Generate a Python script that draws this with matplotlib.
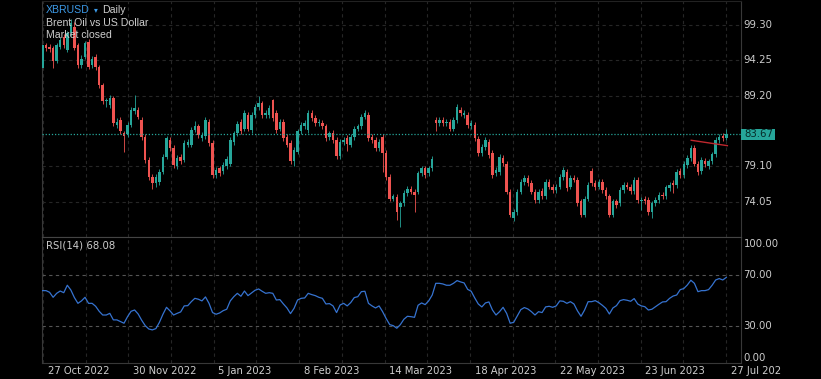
import matplotlib
matplotlib.use('Agg')
import matplotlib.pyplot as plt
import matplotlib.transforms as mtrans
from matplotlib.patches import Rectangle
import numpy as np

# ---------------- data ----------------
opens = [93.1, 96.4, 96.2, 96.0, 94.1, 96.2, 97.6, 95.8, 98.1, 99.0,
         96.4, 93.6, 94.8, 96.9, 93.6, 94.8, 93.3, 90.7, 88.4, 87.9,
         88.8, 85.0, 85.7, 83.8, 83.7, 85.0, 87.0, 87.2, 85.7, 83.3,
         80.0, 77.6, 76.7, 76.9, 78.3, 80.5, 82.9, 81.7, 79.1, 80.4,
         80.0, 82.2, 82.2, 84.3, 84.8, 83.1, 83.4, 85.5, 82.5, 77.9,
         78.8, 78.4, 79.1, 79.5, 82.6, 83.8, 85.5, 84.5, 86.4, 84.3,
         86.4, 87.6, 88.1, 86.4, 86.4, 88.6, 86.7, 84.5, 85.5, 83.3,
         82.4, 79.8, 81.2, 84.1, 84.8, 84.3, 86.7, 86.0, 85.3, 85.3,
         84.8, 83.3, 83.9, 82.9, 80.6, 82.6, 83.2, 82.2, 83.3, 84.5,
         84.8, 86.2, 86.4, 83.3, 82.9, 81.7, 83.3, 81.0, 77.6, 74.5,
         74.7, 73.3, 73.8, 75.3, 75.9, 75.5, 75.5, 78.1, 78.8, 78.1,
         78.8, 85.7, 85.3, 85.7, 85.3, 85.5, 84.5, 85.7, 87.2, 86.4,
         86.4, 84.8, 85.0, 83.0, 81.0, 81.9, 82.6, 81.0, 78.1, 78.3,
         80.3, 79.5, 75.5, 71.7, 72.6, 75.5, 76.9, 77.4, 76.7, 75.5,
         74.3, 75.6, 74.8, 76.9, 76.2, 75.7, 76.2, 77.6, 78.3, 76.2,
         77.5, 77.2, 74.1, 72.2, 74.5, 78.4, 76.7, 76.2, 76.9, 75.7,
         74.8, 72.2, 74.1, 73.8, 75.7, 76.4, 76.2, 75.6, 77.2, 74.1,
         74.5, 74.3, 72.6, 73.8, 74.3, 75.0, 74.8, 76.0, 76.7, 76.4,
         78.4, 77.8, 79.3, 80.3, 81.7, 79.5, 78.4, 79.9, 79.1, 79.8,
         80.8, 82.9, 83.5, 83.2]
closes = [96.4, 96.0, 95.9, 94.1, 96.4, 97.2, 96.4, 98.2, 99.6, 96.0,
          93.6, 94.4, 96.7, 93.3, 94.5, 93.3, 90.7, 88.4, 88.5, 88.8,
          85.3, 85.5, 84.1, 83.4, 85.0, 87.2, 87.4, 86.2, 83.3, 80.0,
          77.6, 76.7, 77.6, 78.3, 80.5, 83.1, 81.7, 79.3, 80.3, 79.8,
          82.4, 82.6, 84.3, 84.8, 83.6, 83.6, 85.7, 82.4, 77.9, 78.6,
          78.1, 79.3, 80.2, 82.9, 83.8, 85.2, 84.1, 86.7, 84.5, 86.4,
          87.6, 88.1, 86.4, 86.7, 87.4, 86.0, 84.3, 85.5, 83.1, 82.2,
          79.8, 81.4, 84.1, 85.0, 85.3, 86.7, 86.0, 85.3, 85.5, 84.8,
          83.1, 83.8, 82.9, 80.6, 82.6, 82.9, 82.3, 83.3, 84.5, 84.8,
          86.2, 86.7, 83.1, 82.9, 81.7, 82.6, 81.0, 77.6, 74.5, 74.8,
          72.6, 73.8, 75.3, 75.9, 75.5, 75.0, 78.1, 78.8, 77.9, 78.8,
          80.2, 85.3, 85.7, 85.3, 85.5, 84.5, 85.7, 87.6, 86.7, 86.7,
          85.0, 85.3, 83.1, 81.0, 81.9, 82.9, 80.7, 77.9, 78.6, 80.5,
          79.6, 75.5, 72.2, 72.6, 75.5, 76.9, 77.4, 76.7, 75.5, 74.3,
          75.5, 74.8, 76.9, 76.2, 75.7, 76.2, 77.6, 78.6, 76.0, 77.4,
          77.2, 73.8, 72.2, 74.5, 76.4, 76.7, 76.1, 76.9, 75.7, 74.8,
          72.2, 74.1, 73.6, 75.7, 76.4, 76.2, 75.6, 77.2, 74.3, 74.3,
          74.1, 72.6, 73.8, 74.3, 75.0, 74.8, 76.1, 76.5, 76.4, 78.3,
          77.9, 79.4, 80.3, 81.7, 79.5, 78.3, 80.0, 79.4, 79.8, 80.8,
          82.9, 83.3, 83.1, 83.67]
highs = [96.8, 96.8, 96.6, 96.3, 96.7, 97.6, 98.0, 98.5, 100.2, 99.8,
         96.8, 95.0, 97.0, 97.3, 94.9, 95.1, 93.6, 91.0, 88.9, 89.3,
         89.2, 86.0, 86.1, 84.2, 85.4, 87.6, 89.3, 87.6, 86.1, 83.7,
         80.4, 78.0, 78.0, 78.7, 80.9, 83.5, 83.3, 82.1, 80.7, 80.8,
         82.8, 83.0, 84.7, 85.6, 85.2, 84.0, 86.1, 85.9, 82.9, 79.0,
         79.2, 79.7, 80.6, 83.3, 84.2, 85.6, 85.9, 87.1, 86.8, 86.8,
         88.0, 89.1, 88.5, 87.1, 87.8, 88.7, 87.1, 85.9, 85.9, 83.7,
         82.8, 81.8, 84.5, 85.4, 85.7, 87.1, 87.1, 86.4, 85.9, 85.7,
         85.2, 84.2, 84.3, 83.3, 83.0, 83.3, 83.6, 83.7, 84.9, 85.2,
         86.6, 87.1, 86.8, 83.7, 83.3, 83.0, 83.7, 81.4, 78.0, 75.2,
         75.1, 74.2, 75.7, 76.3, 76.3, 75.9, 78.5, 79.2, 79.2, 79.2,
         80.6, 86.1, 86.1, 86.1, 85.9, 85.9, 86.1, 88.0, 87.6, 87.1,
         86.8, 85.7, 85.4, 83.4, 82.3, 83.3, 83.0, 81.4, 79.0, 80.9,
         80.7, 79.9, 75.9, 73.0, 75.9, 77.3, 77.8, 77.8, 77.1, 75.9,
         75.9, 76.0, 77.3, 77.3, 76.6, 76.6, 78.0, 79.0, 78.7, 77.8,
         77.9, 77.6, 74.5, 74.9, 76.8, 78.8, 77.1, 77.3, 77.3, 76.1,
         75.2, 74.5, 74.5, 76.1, 76.8, 76.8, 76.6, 77.6, 77.6, 74.7,
         74.9, 74.7, 74.2, 74.7, 75.4, 75.4, 76.5, 76.9, 77.1, 78.7,
         78.8, 79.8, 80.7, 82.1, 82.1, 79.9, 80.4, 80.3, 80.2, 81.2,
         83.3, 83.7, 83.9, 84.5]
lows = [92.6, 95.6, 95.5, 93.2, 93.8, 95.9, 96.0, 95.5, 97.8, 95.7,
        93.2, 93.2, 94.4, 93.0, 93.2, 92.9, 90.3, 88.0, 87.6, 87.5,
        84.9, 84.6, 83.7, 81.2, 83.3, 84.7, 86.6, 85.9, 82.9, 79.6,
        77.2, 75.9, 76.2, 76.5, 78.0, 80.2, 81.3, 78.9, 78.7, 79.4,
        79.7, 81.8, 81.9, 84.0, 83.2, 82.7, 83.0, 82.0, 77.5, 77.5,
        77.7, 78.0, 78.7, 79.1, 82.2, 83.4, 83.7, 84.1, 84.1, 83.9,
        86.0, 87.2, 86.0, 86.0, 86.0, 85.6, 83.9, 84.1, 82.7, 81.8,
        79.4, 79.1, 80.8, 83.7, 84.4, 83.9, 85.6, 84.9, 84.9, 84.4,
        82.7, 82.9, 82.5, 80.2, 80.2, 82.2, 81.3, 81.8, 82.9, 84.1,
        84.4, 85.8, 82.7, 82.5, 81.3, 81.3, 78.3, 77.2, 74.1, 74.1,
        71.4, 70.5, 73.4, 74.9, 75.1, 72.6, 75.1, 77.7, 77.5, 77.7,
        78.4, 84.1, 84.9, 84.9, 84.9, 84.1, 84.1, 85.3, 86.3, 86.0,
        84.6, 84.4, 82.7, 80.6, 80.6, 81.5, 80.3, 77.5, 77.7, 77.9,
        79.2, 75.1, 71.8, 71.3, 72.2, 75.1, 76.5, 76.3, 75.1, 73.9,
        73.9, 74.4, 74.4, 75.8, 75.3, 75.3, 75.8, 77.2, 75.6, 75.8,
        76.8, 73.4, 71.8, 71.8, 74.1, 76.3, 75.7, 75.8, 75.3, 74.4,
        71.8, 71.8, 73.2, 73.4, 75.3, 75.8, 75.2, 75.2, 73.9, 72.8,
        73.7, 72.2, 71.7, 73.4, 73.9, 74.4, 74.4, 75.6, 75.3, 76.0,
        77.5, 77.4, 78.9, 79.9, 79.1, 77.9, 78.0, 79.0, 78.7, 79.4,
        80.4, 82.5, 82.7, 82.8]
rsi = [57.8, 57.8, 56.5, 52.6, 55.7, 57.5, 56.2, 62.0, 58.3, 52.4,
       47.9, 49.8, 52.6, 47.9, 47.9, 45.6, 41.7, 38.8, 38.8, 40.1,
       35.0, 35.0, 33.7, 32.4, 37.5, 41.7, 42.7, 39.6, 34.7, 30.5,
       27.9, 27.2, 28.2, 33.1, 39.4, 44.8, 42.0, 38.8, 40.1, 41.2,
       45.9, 46.1, 49.2, 51.8, 51.1, 49.8, 52.9, 47.9, 40.7, 39.4,
       40.4, 42.2, 43.3, 49.8, 53.1, 55.7, 53.4, 57.5, 53.9, 56.0,
       58.1, 59.1, 57.3, 55.7, 56.2, 55.7, 50.5, 50.8, 47.4, 44.3,
       39.9, 44.0, 50.5, 51.8, 52.1, 55.7, 54.7, 53.9, 52.6, 51.8,
       47.4, 47.7, 45.9, 40.7, 46.6, 47.9, 45.9, 48.5, 52.4, 53.1,
       57.0, 57.3, 47.9, 45.9, 44.3, 45.9, 41.4, 36.0, 31.3, 30.5,
       28.5, 31.3, 35.5, 37.8, 37.5, 37.0, 46.4, 48.2, 46.9, 49.8,
       54.4, 63.5, 63.5, 63.0, 62.0, 62.0, 63.5, 65.6, 64.6, 63.8,
       58.8, 57.3, 52.1, 47.4, 45.1, 48.2, 49.0, 42.7, 38.8, 41.4,
       44.8, 40.1, 32.4, 33.1, 38.1, 43.0, 44.6, 43.5, 41.4, 38.8,
       41.4, 40.7, 45.1, 45.6, 44.8, 45.9, 49.8, 49.5, 47.9, 49.2,
       47.4, 42.0, 37.8, 42.7, 49.2, 49.2, 50.0, 48.5, 46.4, 44.0,
       39.6, 44.3, 46.1, 50.0, 50.8, 50.3, 49.5, 51.6, 47.4, 45.9,
       45.3, 42.7, 43.3, 45.3, 47.2, 49.0, 49.2, 51.8, 53.6, 54.4,
       58.6, 59.4, 62.2, 65.9, 63.5, 57.0, 57.8, 57.8, 58.6, 62.0,
       66.1, 67.2, 66.1, 68.1]
price_ticks = [99.30, 94.25, 89.20, 79.10, 74.05]
rsi_ticks = [100.0, 70.0, 30.0, 0.0]
date_labels = ['27 Oct 2022', '30 Nov 2022', '5 Jan 2023', '8 Feb 2023',
               '14 Mar 2023', '18 Apr 2023', '22 May 2023', '23 Jun 2023',
               '27 Jul 202']
last_price = 83.67
rsi_period = 14
rsi_last = 68.08
trend_x = [183.1, 193.3]
trend_y = [82.83, 82.06]

# ---------------- style ----------------
UP = '#26a69a'
DN = '#ef5350'
TXT = '#cdcdcd'
GRID = '#262626'
BG = '#000000'
plt.rcParams['font.family'] = ['DejaVu Sans']

W, H = 821, 379
fig = plt.figure(figsize=(W / 100, H / 100), dpi=100, facecolor=BG)
L, R = 42, 741
T1, B1, B2 = 1, 237, 363
axp = fig.add_axes([L / W, 1 - B1 / H, (R - L) / W, (B1 - T1) / H])
axr = fig.add_axes([L / W, 1 - B2 / H, (R - L) / W, (B2 - B1) / H])

def px(dx, dy):
    return mtrans.ScaledTranslation(dx / 100, dy / 100, fig.dpi_scale_trans)

n = len(opens)
x = np.arange(n)
xmin, xmax = -0.14, 197.15
grid_step = 12.05
grid_x = [0.14 + grid_step * k for k in range(17)]

for ax in (axp, axr):
    ax.set_facecolor(BG)
    ax.set_xlim(xmin, xmax)
    ax.set_xticks([])
    ax.set_yticks([])
    for s in ax.spines.values():
        s.set_color('#383838')
        s.set_linewidth(0.8)
    for gx in grid_x:
        ax.axvline(gx, color=GRID, lw=0.8, ls=(0, (3, 3)), zorder=0)

axp.spines['top'].set_color('#222222')
axr.spines['top'].set_color('#444444')

# ---------------- price panel ----------------
axp.set_ylim(69.01, 102.73)
for p in price_ticks:
    axp.axhline(p, color=GRID, lw=0.8, ls=(0, (3, 3)), zorder=0)

o = np.array(opens); c = np.array(closes)
hi = np.array(highs); lo = np.array(lows)
up = c >= o
cols = np.where(up, UP, DN)
axp.vlines(x, lo, hi, colors=cols, linewidth=0.6, zorder=2)
bottoms = np.minimum(o, c)
heights = np.maximum(np.abs(c - o), 0.15)
axp.bar(x, heights, bottom=bottoms, width=0.7, color=cols, linewidth=0, zorder=3)

axp.axhline(last_price, color=UP, lw=0.9, ls=(0, (1, 1.5)), zorder=4)
axp.plot(trend_x, trend_y, color='#c0282e', lw=1.0, zorder=5)

blend_p = mtrans.blended_transform_factory(axp.transAxes, axp.transData)
for p in price_ticks:
    axp.text(1.0, p, f'{p:.2f}', transform=blend_p + px(2.5, 0), ha='left',
             va='center', color=TXT, fontsize=7.3, clip_on=False)
box_w = 34 / (R - L)
box_h = 11 / 7.0
axp.add_patch(Rectangle((1.0, last_price - box_h / 2), box_w, box_h,
                        transform=blend_p, facecolor=UP, edgecolor='none',
                        clip_on=False, zorder=6))
axp.text(1.0, last_price, f'{last_price:.2f}', transform=blend_p + px(3, 0),
         ha='left', va='center', color='#062a27', fontsize=7.3,
         clip_on=False, zorder=7)

# header
fig.text(45.7 / W, 1 - 9.7 / H, 'XBRUSD', color='#3d9be9', fontsize=7.6,
         family=['Liberation Sans', 'DejaVu Sans'], va='center', ha='left')
fig.text(94.0 / W, 1 - 10.0 / H, '\u25be', color='#3d9be9', fontsize=5.5,
         family=['DejaVu Sans'], va='center', ha='left')
fig.text(102.3 / W, 1 - 9.7 / H, 'Daily', color=TXT, fontsize=7.6,
         family=['Liberation Sans', 'DejaVu Sans'], va='center', ha='left')
fig.text(45.7 / W, 1 - 23.0 / H, 'Brent Oil vs US Dollar', color=TXT,
         fontsize=7.6, family=['Liberation Sans', 'DejaVu Sans'],
         va='center', ha='left')
fig.text(45.7 / W, 1 - 35.5 / H, 'Market closed', color=TXT, fontsize=7.6,
         family=['Liberation Sans', 'DejaVu Sans'], va='center', ha='left')

# ---------------- RSI panel ----------------
axr.set_ylim(1.4, 99.6)
for lvl in (70, 30):
    axr.axhline(lvl, color='#555555', lw=0.8, ls=(0, (3, 3)), zorder=1)
axr.plot(x, rsi, color='#3673d0', lw=0.9, zorder=3)

blend_r = mtrans.blended_transform_factory(axr.transAxes, axr.transData)
shifts = {100.0: -7.5, 70.0: 0, 30.0: 0, 0.0: 6.5}
for v in rsi_ticks:
    axr.text(1.0, v, f'{v:.2f}', transform=blend_r + px(2.5, shifts[v]),
             ha='left', va='center', color=TXT, fontsize=7.3, clip_on=False)
axr.text(0, 1, f'RSI({rsi_period}) {rsi_last:.2f}', transform=axr.transAxes + px(3.7, -9),
         ha='left', va='center', color=TXT, fontsize=7.3)

blend_x = mtrans.blended_transform_factory(axr.transData, axr.transAxes)
for k, lab in enumerate(date_labels):
    axr.text(grid_x[2 * k], 0, lab, transform=blend_x + px(4.7, -8.5),
             ha='left', va='center', color=TXT, fontsize=7.2, clip_on=False)

fig.savefig('out.png', dpi=100, facecolor=BG)
